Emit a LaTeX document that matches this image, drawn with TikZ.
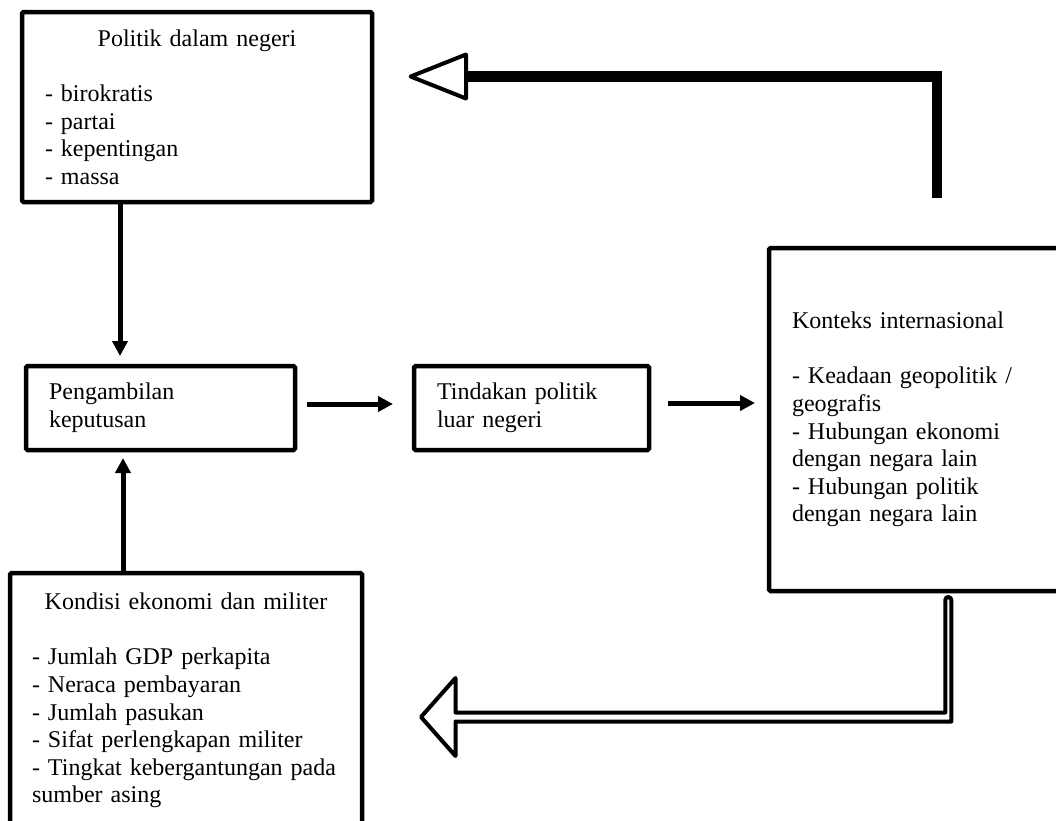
\documentclass[tikz,border=0pt]{standalone}
\usepackage{fontspec}
\setmainfont{Liberation Serif}
\usetikzlibrary{arrows.meta,positioning,calc}

\begin{document}
\begin{tikzpicture}[
    x=1pt, y=-1pt,
    box/.style={draw, line width=4.5pt, rounded corners=1.5pt, outer sep=0pt, inner xsep=23pt, inner ysep=0pt, align=left, font=\fontsize{24}{27.6}\selectfont},
    arrow/.style={-{Triangle[length=15pt, width=15pt]}, line width=5pt},
    bigarrow/.style={line width=10.5pt, line join=miter},
    hollow/.style={draw, fill=white, line width=4pt, line join=round}
  ]
  \useasboundingbox (0,0) rectangle (1056,820);

  % Boxes
  \node[box, text width=304pt, minimum height=190pt] (politik) at (197,107)
    {{\centering Politik dalam negeri\par}\vspace{\baselineskip}- birokratis\\- partai\\- kepentingan\\- massa};
  \node[box, text width=223pt, minimum height=84pt] (ambil) at (160.5,408)
    {Pengambilan\\keputusan};
  \node[box, text width=189pt, minimum height=84pt, right=119pt of ambil] (tindakan)
    {Tindakan politik\\luar negeri};
  \node[box, text width=260pt, minimum height=343pt] (konteks) at (922,419.5)
    {Konteks internasional\\[\baselineskip]- Keadaan geopolitik /\\geografis\\- Hubungan ekonomi\\dengan negara lain\\- Hubungan politik\\dengan negara lain};
  \node[box, inner xsep=22pt, text width=308pt, minimum height=255pt] (kondisi) at (186,700.5)
    {{\centering Kondisi ekonomi dan militer\par}\vspace{\baselineskip}- Jumlah GDP perkapita\\- Neraca pembayaran\\- Jumlah pasukan\\- Sifat perlengkapan militer\\- Tingkat kebergantungan pada\\sumber asing};

  % Arrows
  \draw[arrow, shorten <=2pt, shorten >=10pt] ([xshift=-77pt]politik.south) -- ([xshift=-77pt]politik.south |- ambil.north);
  \draw[arrow, shorten <=2pt, shorten >=8pt] ([xshift=-63pt]kondisi.north) -- ([xshift=-63pt]kondisi.north |- ambil.south);
  \draw[arrow, shorten <=12pt, shorten >=21pt] ([yshift=4pt]ambil.east) -- ([yshift=4pt]ambil.east -| tindakan.west);
  \draw[arrow, shorten <=19pt, shorten >=14pt] ([yshift=5pt]tindakan.east) -- ([yshift=5pt]tindakan.east -| konteks.west);

  % feedback to politik dalam negeri
  \coordinate (backbase) at ($(politik.east)+(94,-30.5)$);
  \draw[bigarrow] ([xshift=15pt, yshift=50pt]konteks.north) |- (backbase);
  \draw[hollow] (backbase) -- ++(0,-22) -- ++(-55.4,22) -- ++(55.4,22) -- cycle;

  % feedback to kondisi ekonomi
  \coordinate (fwdtop) at ($(konteks.south)+(23.3,9)$);
  \draw[hollow] (fwdtop) -- ++(0,112.5) -- ++(-489.8,0) -- ++(0,-34.5) -- ++(-34.5,39)
    -- ++(34.5,39) -- ++(0,-34.5) -- ++(495.8,0) -- ++(0,-121.5) arc (0:-180:3) -- cycle;
\end{tikzpicture}
\end{document}
